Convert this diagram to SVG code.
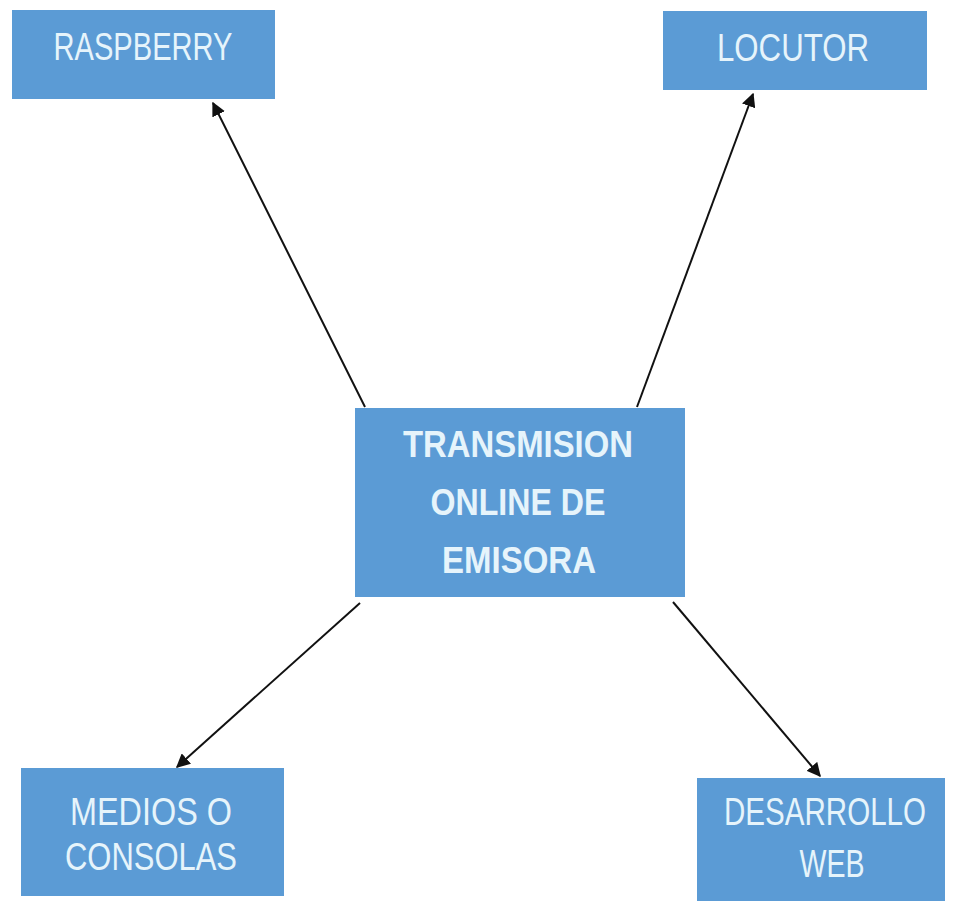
<svg xmlns="http://www.w3.org/2000/svg" width="953" height="901" viewBox="0 0 953 901">
<defs>
<style>
.box{fill:#5B9BD5;}
.t{font-family:"Liberation Sans","Noto Sans",sans-serif;font-size:38px;fill:#E6F4FB;text-anchor:middle;}
.b{font-weight:bold;font-size:37px;}
.c{stroke:#111;stroke-width:2;fill:none;marker-end:url(#ah);}
</style>
<marker id="ah" viewBox="0 0 10 10" refX="9" refY="5" markerWidth="7" markerHeight="7" orient="auto" markerUnits="strokeWidth">
<path d="M0,0 L10,5 L0,10 z" fill="#111"/>
</marker>
</defs>
<rect width="953" height="901" fill="#ffffff"/>
<g id="connectors">
<line class="c" x1="365" y1="407" x2="213" y2="103"/>
<line class="c" x1="637" y1="407" x2="753" y2="94"/>
<line class="c" x1="360" y1="603" x2="177" y2="767"/>
<line class="c" x1="673" y1="602" x2="820" y2="776"/>
</g>
<g id="raspberry">
<rect class="box" x="12" y="10" width="263" height="89"/>
<text class="t" x="143" y="60" textLength="179" lengthAdjust="spacingAndGlyphs">RASPBERRY</text>
</g>
<g id="locutor">
<rect class="box" x="663" y="11" width="264" height="79"/>
<text class="t" x="793" y="61" textLength="152" lengthAdjust="spacingAndGlyphs">LOCUTOR</text>
</g>
<g id="center">
<rect class="box" x="355" y="408" width="330" height="189"/>
<text class="t b" x="518" y="457" textLength="230" lengthAdjust="spacingAndGlyphs">TRANSMISION</text>
<text class="t b" x="518" y="515" textLength="175" lengthAdjust="spacingAndGlyphs">ONLINE DE</text>
<text class="t b" x="519" y="573" textLength="154" lengthAdjust="spacingAndGlyphs">EMISORA</text>
</g>
<g id="medios">
<rect class="box" x="21" y="768" width="263" height="128"/>
<text class="t" x="151" y="825" textLength="162" lengthAdjust="spacingAndGlyphs">MEDIOS O</text>
<text class="t" x="151" y="870" textLength="172" lengthAdjust="spacingAndGlyphs">CONSOLAS</text>
</g>
<g id="desarrollo">
<rect class="box" x="697" y="778" width="248" height="123"/>
<text class="t" x="825" y="825" textLength="202" lengthAdjust="spacingAndGlyphs">DESARROLLO</text>
<text class="t" x="832" y="877" textLength="65" lengthAdjust="spacingAndGlyphs">WEB</text>
</g>
</svg>
